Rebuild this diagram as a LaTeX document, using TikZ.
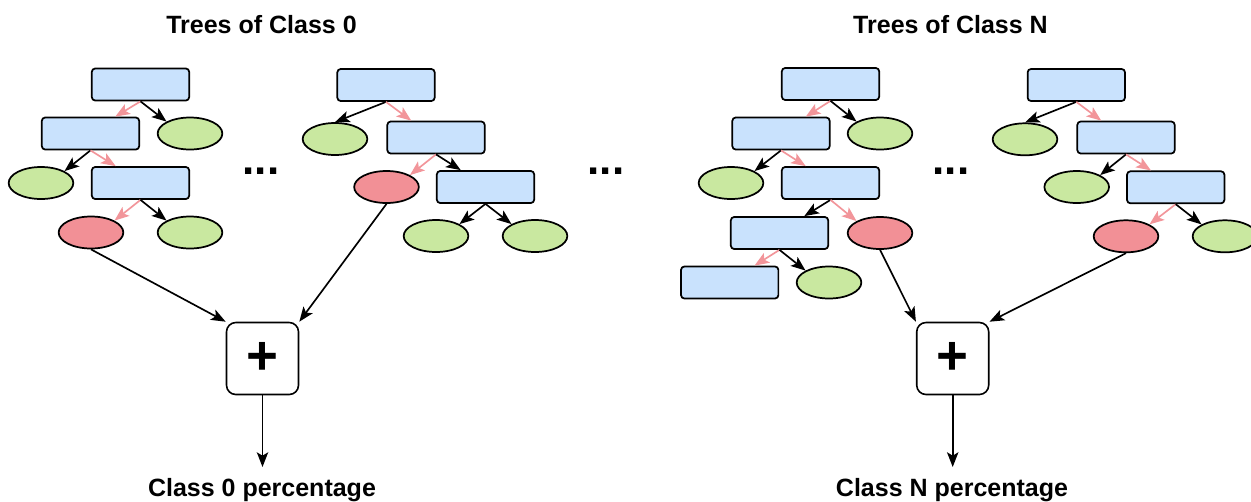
\documentclass[tikz,border=0pt]{standalone}
\usepackage{fontspec}
\setmainfont{Liberation Sans}
\usetikzlibrary{arrows.meta,shapes.geometric,calc}
\definecolor{blueC}{HTML}{C9E2FD}
\definecolor{greenC}{HTML}{C9E8A0}
\definecolor{redC}{HTML}{F29096}
\definecolor{pinkC}{HTML}{F2959A}
\tikzset{
  bx/.style={draw, rectangle, rounded corners=2.5pt, line width=1.3pt, fill=blueC,
    minimum width=73pt, minimum height=24pt, inner sep=0pt},
  lf/.style={draw, ellipse, line width=1.3pt, fill=greenC,
    minimum width=48.5pt, minimum height=24pt, inner sep=0pt},
  rd/.style={lf, fill=redC},
  sumbox/.style={draw, rectangle, rounded corners=7pt, line width=1.2pt, fill=white,
    minimum width=54pt, minimum height=54pt, inner sep=0pt, font=\bfseries\fontsize{41}{41}\selectfont},
  ttl/.style={anchor=base, inner sep=0pt, font=\bfseries\fontsize{18.75}{20}\selectfont},
  dots/.style={anchor=base, inner sep=0pt, font=\bfseries\fontsize{33}{33}\selectfont},
  ar/.style={draw=black, line width=1.25pt, -{Stealth[length=11pt,width=8.5pt,inset=2.5pt]}},
  pk/.style={draw=pinkC, line width=1.25pt, -{Stealth[length=11pt,width=8.5pt,inset=2.5pt]}},
}
\begin{document}
\begin{tikzpicture}[x=0.75pt,y=-0.75pt]
\useasboundingbox (0,0) rectangle (1251,501);
% titles
\node[ttl] (T0) at (261.5,33) {Trees of Class 0};
\node[ttl] (T1) at (950.5,33) {Trees of Class N};
% dots
\node[dots] (d1) at (261,174) {...};
\node[dots] (d2) at (606,174) {...};
\node[dots] (d3) at (951,174) {...};
% tree 1
\node[bx] (A) at (140.5,84.5) {};
\node[lf] (g1) at (190,133.5) {};
\node[bx] (B) at (90.5,133.5) {};
\node[lf] (g2) at (41,183) {};
\node[bx] (C) at (140.5,183) {};
\node[rd] (r1) at (91,232.5) {};
\node[lf] (g3) at (190,232.5) {};
% tree 2
\node[bx] (D) at (386,85) {};
\node[lf] (g4) at (335,139) {};
\node[bx] (E) at (436,137.5) {};
\node[rd] (r2) at (386.5,187) {};
\node[bx] (F) at (485.5,187) {};
\node[lf] (g5) at (436,236) {};
\node[lf] (g6) at (535,236) {};
% tree 3
\node[bx] (G) at (830.5,84) {};
\node[lf] (g7) at (880,133.5) {};
\node[bx] (H) at (781,133.5) {};
\node[lf] (g8) at (731,183) {};
\node[bx] (I) at (830.5,183) {};
\node[bx] (J) at (779.5,233) {};
\node[rd] (r3) at (880,233) {};
\node[bx] (K) at (729.7,282.5) {};
\node[lf] (g9) at (829,282.5) {};
% tree 4
\node[bx] (L) at (1076.3,85) {};
\node[lf] (g10) at (1025,139.3) {};
\node[bx] (M) at (1126,137.5) {};
\node[lf] (g11) at (1076.7,187) {};
\node[bx] (N) at (1175.7,187.3) {};
\node[rd] (r4) at (1126,236.3) {};
\node[lf] (g12) at (1225,236.3) {};
% sum boxes
\node[sumbox] (P0) at (262.5,358.5) {+};
\node[sumbox] (P1) at (952.7,358.5) {+};
\coordinate (e0) at (262.5,467);
\coordinate (e1) at (952.7,467);
\node[ttl] (L0) at (262,496) {Class 0 percentage};
\node[ttl] (L1) at (952,496) {Class N percentage};
% tree 1 edges
\draw[pk] (A.south) -- ($(B.north)!0.5!(B.north east)$);
\draw[ar] (A.south) -- (g1.north west);
\draw[ar] (B.south) -- (g2.north east);
\draw[pk] (B.south) -- ($(C.north west)!0.5!(C.north)$);
\draw[pk] (C.south) -- (r1.north east);
\draw[ar] (C.south) -- (g3.north west);
% tree 2 edges
\draw[ar] (D.south) -- (g4.north);
\draw[pk] (D.south) -- ($(E.north west)!0.5!(E.north)$);
\draw[pk] (E.south) -- (r2.north east);
\draw[ar] (E.south) -- ($(F.north west)!0.5!(F.north)$);
\draw[ar] (F.south) -- (g5.north east);
\draw[ar] (F.south) -- (g6.north west);
% tree 3 edges
\draw[pk] (G.south) -- ($(H.north)!0.5!(H.north east)$);
\draw[ar] (G.south) -- (g7.north west);
\draw[ar] (H.south) -- (g8.north east);
\draw[pk] (H.south) -- ($(I.north west)!0.5!(I.north)$);
\draw[ar] (I.south) -- ($(J.north)!0.5!(J.north east)$);
\draw[pk] (I.south) -- (r3.north west);
\draw[pk] (J.south) -- ($(K.north)!0.5!(K.north east)$);
\draw[ar] (J.south) -- (g9.north west);
% tree 4 edges
\draw[ar] (L.south) -- (g10.north);
\draw[pk] (L.south) -- ($(M.north west)!0.5!(M.north)$);
\draw[ar] (M.south) -- (g11.north east);
\draw[pk] (M.south) -- ($(N.north west)!0.5!(N.north)$);
\draw[pk] (N.south) -- (r4.north east);
\draw[ar] (N.south) -- (g12.north west);
% to sums
\draw[ar] (r1.south) -- (P0.north west);
\draw[ar] (r2.south) -- (P0.north east);
\draw[ar] (r3.south) -- (P1.north west);
\draw[ar] (r4.south) -- (P1.north east);
\draw[ar] (P0.south) -- (e0);
\draw[ar] (P1.south) -- (e1);
\end{tikzpicture}
\end{document}
